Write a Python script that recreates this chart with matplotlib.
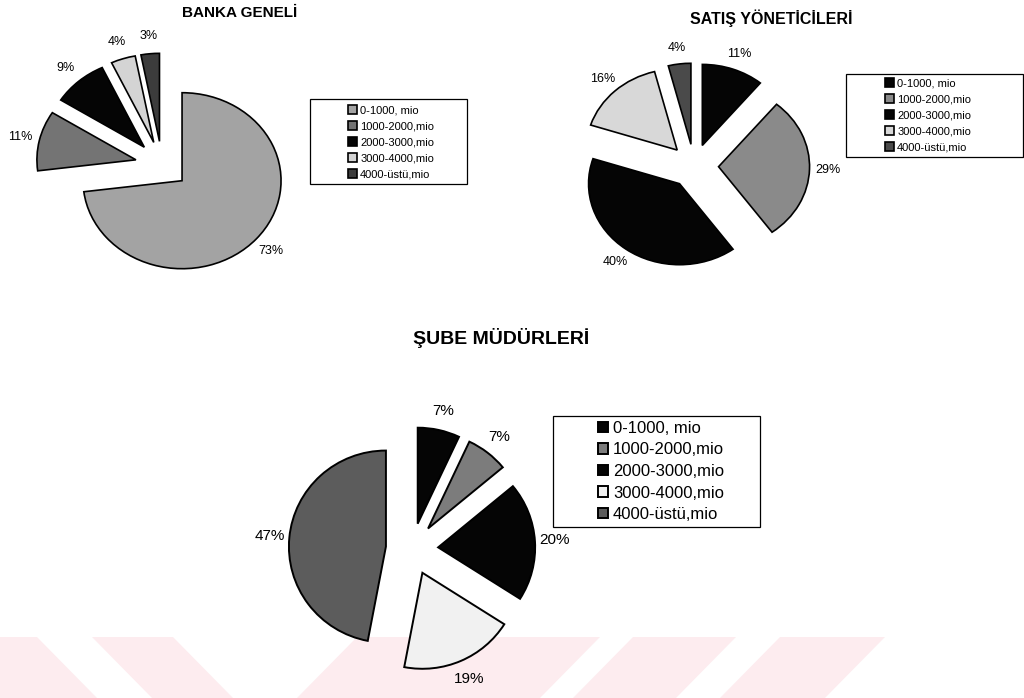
import matplotlib
matplotlib.use("Agg")
import matplotlib.pyplot as plt
from matplotlib.patches import Rectangle, Polygon

plt.rcParams['font.family'] = ['Liberation Sans', 'DejaVu Sans']

# ---------------- data ----------------
categories = ["0-1000, mio", "1000-2000,mio", "2000-3000,mio",
              "3000-4000,mio", "4000-üstü,mio"]
banka_values = [73, 11, 9, 4, 3]
satis_values = [11, 29, 40, 16, 4]
sube_values = [7, 7, 20, 19, 47]

titles = ["BANKA GENELİ", "SATIŞ YÖNETİCİLERİ", "ŞUBE MÜDÜRLERİ"]

banka_colors = ["#a3a3a3", "#747474", "#050505", "#d4d4d4", "#3c3c3c"]
satis_colors = ["#050505", "#8a8a8a", "#050505", "#d8d8d8", "#4a4a4a"]
sube_colors = ["#050505", "#7c7c7c", "#050505", "#f1f1f1", "#5c5c5c"]

W, H = 1024, 698
fig = plt.figure(figsize=(W / 100, H / 100), dpi=100)
fig.patch.set_facecolor("white")

# ---- faint scan watermark stripes at the bottom (decoration) ----
wm_color = "#fdecef"
stripes = [
    [(0, 637), (37, 637), (97, 698), (0, 698)],
    [(92, 637), (173, 637), (233, 698), (152, 698)],
    [(357, 637), (600, 637), (540, 698), (297, 698)],
    [(633, 637), (736, 637), (676, 698), (573, 698)],
    [(780, 637), (885, 637), (825, 698), (720, 698)],
]
for poly in stripes:
    pts = [(x / W, 1 - y / H) for x, y in poly]
    fig.add_artist(Polygon(pts, closed=True, transform=fig.transFigure,
                           facecolor=wm_color, edgecolor="none", zorder=-5))


def pie_axes(cx, cy, rx, ry, lim=1.7):
    ax = fig.add_axes([(cx - lim * rx) / W, 1 - (cy + lim * ry) / H,
                       2 * lim * rx / W, 2 * lim * ry / H])
    return ax, lim


def draw_pie(ax, lim, values, colors, pct_size, lw):
    wedges, _, autotexts = ax.pie(
        values, colors=colors, startangle=90, counterclock=False,
        explode=[0.27] * len(values), autopct="%.0f%%", pctdistance=1.2,
        wedgeprops=dict(edgecolor="black", linewidth=lw),
        textprops=dict(fontsize=pct_size, color="black"), frame=False)
    ax.set_aspect("auto")
    ax.set_xlim(-lim, lim)
    ax.set_ylim(-lim, lim)
    ax.patch.set_alpha(0)
    return wedges


def legend_box(x0, y0, x1, y1):
    fig.add_artist(Rectangle((x0 / W, 1 - y1 / H), (x1 - x0) / W, (y1 - y0) / H,
                             transform=fig.transFigure, fill=False,
                             edgecolor="black", linewidth=0.9))


def legend(wedges, x, y, size, hl, spacing):
    fig.legend(wedges, categories, loc="upper left",
               bbox_to_anchor=(x / W, 1 - y / H), frameon=False,
               borderpad=0, borderaxespad=0, fontsize=size,
               handlelength=hl, handleheight=hl, handletextpad=0.3,
               labelspacing=spacing)


# ---------------- BANKA GENELİ ----------------
ax1, l1 = pie_axes(162, 165, 99, 88)
w1 = draw_pie(ax1, l1, banka_values, banka_colors, 9, 1.2)
fig.text(240 / W, 1 - 13 / H, titles[0], ha="center", va="center",
         fontsize=11, fontweight="bold")
legend_box(310, 99, 467, 184)
legend(w1, 348, 105, 8, 0.8, 0.54)

# ---------------- SATIŞ YÖNETİCİLERİ ----------------
ax2, l2 = pie_axes(694, 166, 91, 81)
w2 = draw_pie(ax2, l2, satis_values, satis_colors, 9, 1.2)
fig.text(771 / W, 1 - 18 / H, titles[1], ha="center", va="center",
         fontsize=11.5, fontweight="bold")
legend_box(846, 74, 1023, 157)
legend(w2, 885, 78, 8, 0.8, 0.54)

# ---------------- ŞUBE MÜDÜRLERİ ----------------
ax3, l3 = pie_axes(412, 549, 97, 96)
w3 = draw_pie(ax3, l3, sube_values, sube_colors, 11, 1.4)
fig.text(501 / W, 1 - 338 / H, titles[2], ha="center", va="center",
         fontsize=14, fontweight="bold")
legend_box(553, 416, 760, 527)
legend(w3, 598, 421, 12, 0.6, 0.39)

fig.savefig("out.png", dpi=100, facecolor="white")
